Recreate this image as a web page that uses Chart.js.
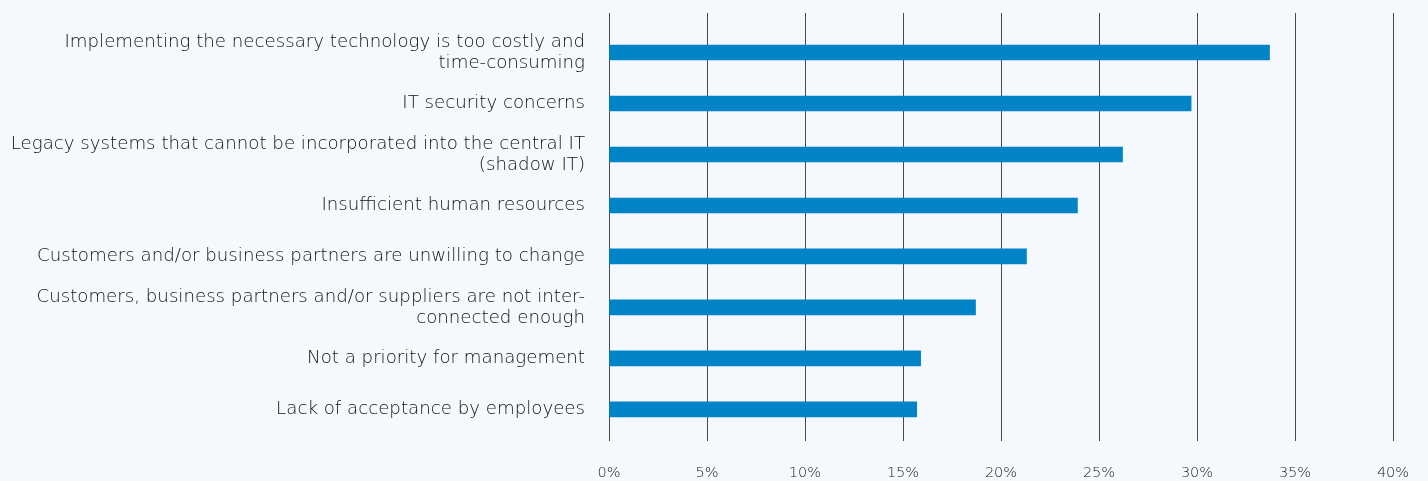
<!DOCTYPE html>
<html>
<head>
<meta charset="utf-8">
<script src="https://cdn.jsdelivr.net/npm/chart.js@4/dist/chart.umd.min.js"></script>
<style>
  html, body { margin: 0; padding: 0; background: #f5f9fe; }
  #wrap { width: 1428px; height: 481px; position: relative; }
</style>
</head>
<body>
<div id="wrap"><canvas id="c" width="1428" height="481"></canvas></div>
<script>
// Obstacles to digitalisation, share of respondents (%)
const categories = [
  ["Implementing the necessary technology is too costly and", "time-consuming"],
  "IT security concerns",
  ["Legacy systems that cannot be incorporated into the central IT", "(shadow IT)"],
  "Insufficient human resources",
  "Customers and/or business partners are unwilling to change",
  ["Customers, business partners and/or suppliers are not inter-", "connected enough"],
  "Not a priority for management",
  "Lack of acceptance by employees"
];
const shares = [33.7, 29.7, 26.2, 23.9, 21.3, 18.7, 15.9, 15.7];
const xTicks = [0, 5, 10, 15, 20, 25, 30, 35, 40];

const points = shares.map((v, i) => ({ x: v, y: i }));

new Chart(document.getElementById('c'), {
  type: 'bar',
  data: {
    datasets: [{
      data: points,
      backgroundColor: '#0084c8',
      borderWidth: 0,
      barThickness: 15
    }]
  },
  options: {
    indexAxis: 'y',
    responsive: false,
    animation: false,
    layout: { padding: { top: 13, right: 35, left: 0, bottom: 0 } },
    plugins: { legend: { display: false }, tooltip: { enabled: false } },
    scales: {
      x: {
        type: 'linear',
        min: 0,
        max: 40,
        afterBuildTicks: s => { s.ticks = xTicks.map(v => ({ value: v })); },
        afterFit: s => { s.height = 40; s.paddingLeft = 0; s.paddingRight = 0; },
        grid: { color: '#4a4a4a', lineWidth: 1, drawTicks: false },
        border: { display: false },
        ticks: {
          padding: 24,
          color: '#1a1a1a',
          font: { family: 'DejaVu Sans', size: 14.5, weight: 200 },
          callback: v => v + '%'
        }
      },
      y: {
        type: 'linear',
        reverse: true,
        offset: false,
        min: -0.775,
        max: 7.62,
        afterBuildTicks: s => { s.ticks = categories.map((_, i) => ({ value: i })); },
        afterFit: s => { s.width = 609; s.paddingTop = 0; s.paddingBottom = 0; },
        grid: { display: false, drawTicks: false },
        border: { display: false },
        ticks: {
          padding: 24,
          color: '#111',
          font: { family: 'DejaVu Sans', size: 18.2, weight: 200, lineHeight: 1.15 },
          callback: v => categories[v]
        }
      }
    }
  }
});
</script>
</body>
</html>
